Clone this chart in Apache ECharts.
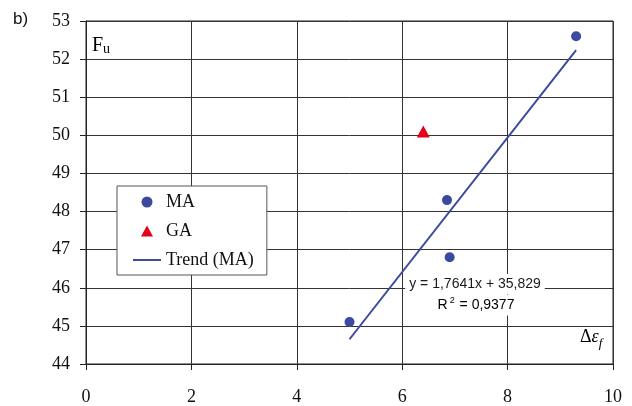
<!DOCTYPE html>
<html>
<head>
<meta charset="utf-8">
<style>
  html, body { margin: 0; padding: 0; background: #fff; }
  #chart { width: 632px; height: 406px; }
</style>
<script src="https://cdn.jsdelivr.net/npm/echarts@6/dist/echarts.min.js"></script>
</head>
<body>
<div id="chart"></div>
<script>
// Measured points (x = Δε_f, y = F_u)
const maX = [5.0, 6.9, 6.85, 9.3];
const maY = [45.1, 46.8, 48.3, 52.6];
const gaX = [6.4];
const gaY = [50.1];

// Linear fit of the MA points, drawn over the MA range
const trendSlope = 1.7641;
const trendIntercept = 35.829;
const trendR2 = 0.9377;
const trendX = [5.0, 9.3];

// Axis ranges and ticks
const xTicks = [0, 2, 4, 6, 8, 10];
const yTicks = [44, 45, 46, 47, 48, 49, 50, 51, 52, 53];

const seriesNames = ['MA', 'GA', 'Trend (MA)'];

const SERIF = "'Liberation Serif', 'Times New Roman', serif";
const SANS = "'Liberation Sans', Arial, sans-serif";
const BLUE = '#3B4A9E';
const RED = '#E3001B';
const INK = '#1a1a1a';

const fmt = (v) => String(v).replace('.', ',');

const zip = (xs, ys) => xs.map((x, i) => [x, ys[i]]);
const trendData = trendX.map(x => [x, trendSlope * x + trendIntercept]);

const chart = echarts.init(document.getElementById('chart'), null, { renderer: 'canvas' });

chart.setOption({
  animation: false,
  backgroundColor: '#fff',
  grid: {
    left: 86, right: 19, top: 21, bottom: 42,
    show: true, borderColor: '#222', borderWidth: 1,
    backgroundColor: 'transparent'
  },
  xAxis: {
    type: 'value',
    min: xTicks[0], max: xTicks[xTicks.length - 1], interval: 2,
    axisLine: { show: true, onZero: false, lineStyle: { color: '#222', width: 1 } },
    axisTick: { show: true, inside: false, length: 6, lineStyle: { color: '#222' } },
    axisLabel: { margin: 24, fontFamily: SERIF, fontSize: 18, color: '#111' },
    splitLine: { show: true, lineStyle: { color: '#333', width: 1 } }
  },
  yAxis: {
    type: 'value',
    min: yTicks[0], max: yTicks[yTicks.length - 1], interval: 1,
    axisLine: { show: true, onZero: false, lineStyle: { color: '#222', width: 1 } },
    axisTick: { show: true, inside: false, length: 6, lineStyle: { color: '#222' } },
    axisLabel: { margin: 16, fontFamily: SERIF, fontSize: 18, color: '#111' },
    splitLine: { show: true, lineStyle: { color: '#333', width: 1 } }
  },
  legend: {
    orient: 'vertical',
    left: 117, top: 186,
    padding: [6, 13, 5, 16],
    backgroundColor: '#fff',
    borderColor: '#555',
    borderWidth: 1,
    itemWidth: 28,
    itemHeight: 11,
    itemGap: 9,
    symbolKeepAspect: true,
    textStyle: { fontFamily: SERIF, fontSize: 18, color: '#111', lineHeight: 20 },
    data: [
      { name: seriesNames[0], icon: 'circle' },
      { name: seriesNames[1], icon: 'path://M6,0 L12,11 L0,11 Z' },
      { name: seriesNames[2], icon: 'path://M0,0 L28,0 L28,2 L0,2 Z' }
    ]
  },
  graphic: [
    {
      type: 'text', left: 13, top: 11, z: 100,
      style: { text: 'b)', font: `17px ${SANS}`, fill: '#111' }
    },
    {
      type: 'text', left: 89, top: 36, z: 100,
      style: {
        text: '{F|F}{u|u}',
        backgroundColor: '#fff',
        padding: [0, 1, 2, 3],
        rich: {
          F: { fontFamily: SERIF, fontSize: 20, color: '#111' },
          u: { fontFamily: SERIF, fontSize: 14, color: '#111', padding: [6, 0, 0, 0] }
        }
      }
    },
    {
      type: 'text', left: 580, top: 328, z: 100,
      style: {
        text: '{d|Δ}{e|ε}{f|f}',
        rich: {
          d: { fontFamily: SERIF, fontSize: 18, color: '#111' },
          e: { fontFamily: SERIF, fontSize: 18, fontStyle: 'italic', color: '#111' },
          f: { fontFamily: SERIF, fontSize: 13, fontStyle: 'italic', color: '#111', padding: [14, 0, 0, 0] }
        }
      }
    },
    // Regression equation and coefficient of determination
    {
      type: 'text', x: 475, y: 284, z: 100,
      style: {
        text: `y = ${fmt(trendSlope)}x + ${fmt(trendIntercept)}`,
        font: `14px ${SANS}`,
        fill: INK,
        align: 'center',
        verticalAlign: 'middle',
        backgroundColor: '#fff',
        padding: [3, 4, 3, 4]
      }
    },
    {
      type: 'text', x: 476, y: 305, z: 100,
      style: {
        text: `{r|R}{s|2}{r| = ${fmt(trendR2)}}`,
        align: 'center',
        verticalAlign: 'middle',
        backgroundColor: '#fff',
        padding: [2, 4, 2, 4],
        rich: {
          r: { fontFamily: SANS, fontSize: 14, color: INK },
          s: { fontFamily: SANS, fontSize: 9, color: INK, padding: [0, 1, 8, 2] }
        }
      }
    }
  ],
  series: [
    {
      name: seriesNames[0],
      type: 'scatter',
      data: zip(maX, maY),
      symbol: 'circle',
      symbolSize: 10,
      itemStyle: { color: BLUE, opacity: 1 },
      z: 4
    },
    {
      name: seriesNames[1],
      type: 'scatter',
      data: zip(gaX, gaY),
      symbol: 'triangle',
      symbolSize: [13, 12],
      itemStyle: { color: RED, opacity: 1 },
      z: 4
    },
    {
      name: seriesNames[2],
      type: 'line',
      data: trendData,
      symbol: 'none',
      showSymbol: false,
      lineStyle: { color: BLUE, width: 2 },
      itemStyle: { color: BLUE },
      z: 3
    }
  ]
});
</script>
</body>
</html>
